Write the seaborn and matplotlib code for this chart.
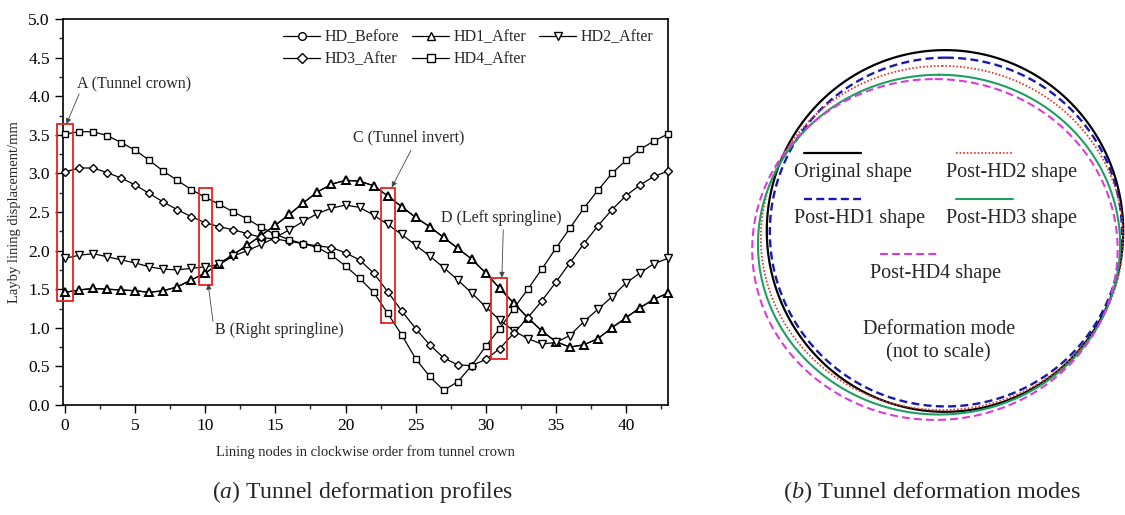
import numpy as np
import pandas as pd
import seaborn as sns
import matplotlib.pyplot as plt
from matplotlib.lines import Line2D
from matplotlib.patches import Rectangle
from matplotlib.ticker import MultipleLocator

# lining displacement (mm) at nodes 0..43
nodes = list(range(44))
hd1_after = [1.46, 1.49, 1.51, 1.50, 1.49, 1.48, 1.46, 1.48, 1.53, 1.62, 1.71, 1.83,
             1.95, 2.07, 2.20, 2.33, 2.47, 2.62, 2.76, 2.86, 2.91, 2.90, 2.84, 2.71,
             2.57, 2.43, 2.31, 2.17, 2.03, 1.89, 1.71, 1.51, 1.32, 1.13, 0.96, 0.82,
             0.75, 0.78, 0.86, 1.00, 1.13, 1.26, 1.37, 1.45]
hd_before = list(hd1_after)  # hidden under the HD1 markers in the figure
hd2_after = [1.90, 1.94, 1.96, 1.92, 1.88, 1.84, 1.79, 1.76, 1.75, 1.77, 1.79, 1.82,
             1.93, 2.00, 2.08, 2.17, 2.27, 2.38, 2.48, 2.55, 2.59, 2.56, 2.46, 2.34,
             2.21, 2.07, 1.93, 1.78, 1.62, 1.45, 1.27, 1.10, 0.96, 0.86, 0.79, 0.81,
             0.90, 1.08, 1.24, 1.40, 1.58, 1.71, 1.83, 1.90]
hd3_after = [3.02, 3.07, 3.07, 3.01, 2.94, 2.85, 2.74, 2.63, 2.53, 2.44, 2.36, 2.31,
             2.27, 2.22, 2.17, 2.15, 2.12, 2.09, 2.06, 2.04, 1.97, 1.88, 1.71, 1.47,
             1.22, 0.99, 0.78, 0.61, 0.52, 0.51, 0.59, 0.73, 0.93, 1.13, 1.35, 1.59,
             1.84, 2.09, 2.32, 2.53, 2.71, 2.85, 2.96, 3.03]
hd4_after = [3.51, 3.54, 3.54, 3.49, 3.40, 3.30, 3.17, 3.03, 2.91, 2.79, 2.69, 2.60,
             2.50, 2.41, 2.30, 2.21, 2.14, 2.09, 2.04, 1.94, 1.80, 1.64, 1.46, 1.19,
             0.91, 0.60, 0.37, 0.19, 0.30, 0.51, 0.76, 0.99, 1.25, 1.50, 1.76, 2.03,
             2.29, 2.55, 2.78, 3.00, 3.17, 3.31, 3.42, 3.51]

series_names = ["HD_Before", "HD1_After", "HD2_After", "HD3_After", "HD4_After"]
series_vals = [hd_before, hd1_after, hd2_after, hd3_after, hd4_after]
series_markers = ["o", "^", "v", "D", "s"]
series_msize = [2.0, 5.5, 5.5, 4.5, 5.0]
series_mew = [0.8, 1.4, 1.0, 1.0, 1.0]

# highlighted node groups (red boxes) and their labels
box_x = [(-0.55, 0.55), (9.55, 10.5), (22.5, 23.55), (30.4, 31.55)]
box_y = [(1.35, 3.64), (1.56, 2.81), (1.06, 2.81), (0.60, 1.64)]
note_text = ["A (Tunnel crown)", "B (Right springline)", "C (Tunnel invert)", "D (Left springline)"]
note_pos = [(0.85, 4.17), (10.68, 0.97), (20.5, 3.46), (26.8, 2.42)]
arrow_tail = [(1.0, 4.03), (10.55, 1.08), (24.67, 3.30), (31.25, 2.27)]
arrow_head = [(0.1, 3.64), (10.2, 1.57), (23.3, 2.82), (31.15, 1.65)]

# deformation modes (not to scale): centre offset and semi-axes, original radius = 1
shape_names = ["Original shape", "Post-HD1 shape", "Post-HD2 shape", "Post-HD3 shape", "Post-HD4 shape"]
shape_dx = [0.0, 0.005, -0.017, -0.033, -0.056]
shape_dy = [0.0, -0.006, -0.039, -0.076, -0.103]
shape_a = [0.99, 0.978, 1.006, 1.006, 1.015]
shape_b = [1.005, 0.969, 0.956, 0.944, 0.947]
shape_color = ["black", "#1a1aa8", "#e03a2a", "#1f9e62", "#d93cd9"]
shape_lw = [1.6, 1.7, 1.3, 1.5, 1.5]
shape_dash = [None, (3.4, 1.8), (0.9, 1.1), None, (3.8, 2.0)]

sns.set_theme(style="ticks")
plt.rcParams["font.family"] = ["Liberation Serif", "DejaVu Serif"]
plt.rcParams["mathtext.fontset"] = "custom"
plt.rcParams["mathtext.it"] = "Liberation Serif:italic"
plt.rcParams["mathtext.rm"] = "Liberation Serif"

fig = plt.figure(figsize=(11.25, 5.15), dpi=100)
ax = fig.add_axes([63 / 1125, 1 - 405 / 515, 605 / 1125, 386 / 515])

df = pd.DataFrame({"node": nodes})
for i, name in enumerate(series_names):
    df[name] = series_vals[i]
    sns.lineplot(data=df, x="node", y=name, ax=ax, color="black", lw=0.9,
                 marker=series_markers[i], markersize=series_msize[i],
                 markerfacecolor="white", markeredgecolor="black",
                 markeredgewidth=series_mew[i], zorder=2 + i, clip_on=False)

ax.set_xlim(-0.15, 43)
ax.set_ylim(0, 5)
ax.xaxis.set_major_locator(MultipleLocator(5))
ax.xaxis.set_minor_locator(MultipleLocator(2.5))
ax.yaxis.set_major_locator(MultipleLocator(0.5))
ax.yaxis.set_minor_locator(MultipleLocator(0.25))
ax.yaxis.set_major_formatter(plt.FormatStrFormatter("%.1f"))
ax.tick_params(which="major", direction="out", length=6, width=1, labelsize=12.5,
               top=False, right=False, color="black", labelcolor="black")
ax.tick_params(which="minor", direction="out", length=3, width=1, top=False, right=False)
for s in ax.spines.values():
    s.set_color("black")
    s.set_linewidth(1.2)
ax.set_xlabel("Lining nodes in clockwise order from tunnel crown", fontsize=10.5, labelpad=8)
ax.set_ylabel("Layby lining displacement/mm", fontsize=10.5, labelpad=5)

for i in range(4):
    ax.add_patch(Rectangle((box_x[i][0], box_y[i][0]), box_x[i][1] - box_x[i][0],
                           box_y[i][1] - box_y[i][0], fill=False, edgecolor="#e8201c",
                           lw=1.3, zorder=10, clip_on=False))
    ax.text(note_pos[i][0], note_pos[i][1], note_text[i], fontsize=11.5, ha="left", va="center")
    ax.annotate("", xy=arrow_head[i], xytext=arrow_tail[i],
                arrowprops=dict(arrowstyle="-|>", color="#444444", lw=0.6, mutation_scale=8,
                                shrinkA=0, shrinkB=0), zorder=11)

handles = [Line2D([], [], color="black", lw=0.9, marker=m, markersize=5.5,
                  markerfacecolor="white", markeredgecolor="black")
           for m in series_markers]
order = [0, 3, 1, 4, 2]
ax.legend([handles[k] for k in order], [series_names[k] for k in order], ncol=3,
          loc="upper right", bbox_to_anchor=(1.0, 1.01), frameon=False, fontsize=11.5,
          handlelength=2.3, handletextpad=0.3, columnspacing=0.8, labelspacing=0.35)

# right panel: deformation modes
ax2 = fig.add_axes([745 / 1125, 1 - 430 / 515, 380 / 1125, 395 / 515])
t = np.linspace(0, 2 * np.pi, 400)
for i in range(5):
    xs = shape_dx[i] + shape_a[i] * np.sin(t)
    ys = shape_dy[i] + shape_b[i] * np.cos(t)
    line, = ax2.plot(xs, ys, color=shape_color[i], lw=shape_lw[i], clip_on=False)
    if shape_dash[i] is not None:
        line.set_dashes(shape_dash[i])
ax2.set_xlim(-1.111, 1.0)
ax2.set_ylim(-1.106, 1.089)
ax2.axis("off")

# in-figure key for the shapes: handle above label
key_pos = [(0.29, 0.651), (0.29, 0.535), (0.69, 0.651), (0.69, 0.535), (0.49, 0.395)]
for i in range(5):
    kx, ky = key_pos[i]
    key = Line2D([kx - 0.135, kx + 0.015], [ky + 0.05, ky + 0.05], transform=ax2.transAxes,
                 color=shape_color[i], lw=shape_lw[i])
    if shape_dash[i] is not None:
        key.set_dashes(shape_dash[i])
    ax2.add_line(key)
    ax2.text(kx - 0.16, ky, shape_names[i], transform=ax2.transAxes, fontsize=14.5,
             ha="left", va="center")
ax2.text(0.51, 0.225, "Deformation mode\n(not to scale)", transform=ax2.transAxes,
         fontsize=14.5, ha="center", va="center", linespacing=1.25)

fig.text(362 / 1125, 1 - 492 / 515, r"($\it{a}$) Tunnel deformation profiles", fontsize=17,
         ha="center", va="center")
fig.text(932 / 1125, 1 - 492 / 515, r"($\it{b}$) Tunnel deformation modes", fontsize=17.5,
         ha="center", va="center")

fig.savefig("out.png", dpi=100)
